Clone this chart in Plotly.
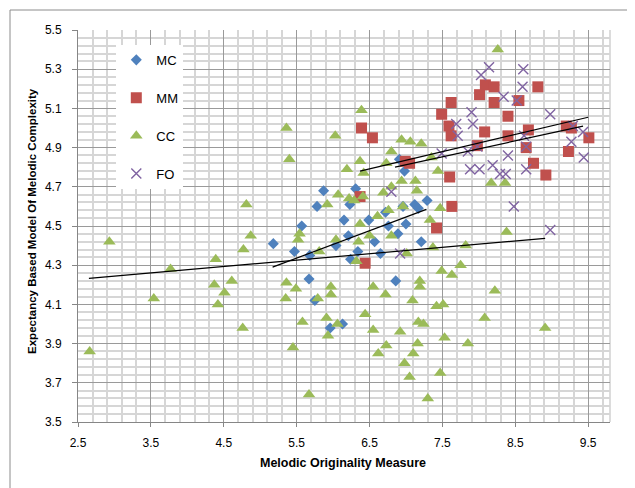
import plotly.graph_objects as go

# ---- data ----
mc_x = [5.18, 5.47, 5.57, 5.68, 5.67, 5.75, 5.78, 5.87, 5.96, 6.13, 6.04, 6.15, 6.21, 6.23, 6.24, 6.31,
        6.34, 6.49, 6.57, 6.65, 6.72, 6.76, 6.86, 6.89, 6.91, 6.96, 6.98, 7.00, 7.12, 7.17, 7.21, 7.29]
mc_y = [4.41, 4.37, 4.50, 4.35, 4.23, 4.12, 4.60, 4.68, 3.98, 4.00, 4.40, 4.53, 4.45, 4.61, 4.33, 4.69,
        4.37, 4.53, 4.42, 4.36, 4.57, 4.50, 4.22, 4.46, 4.84, 4.60, 4.78, 4.51, 4.61, 4.59, 4.42, 4.63]

mm_x = [6.39, 6.54, 6.37, 6.44, 6.99, 7.05, 7.42, 7.49, 7.59, 7.62, 7.62, 7.60, 7.63, 7.98, 8.01, 8.08,
        8.09, 8.21, 8.21, 8.40, 8.40, 8.55, 8.65, 8.68, 8.75, 8.81, 8.92, 9.20, 9.27, 9.23, 9.51]
mm_y = [5.00, 4.95, 4.65, 4.31, 4.83, 4.82, 4.49, 5.07, 5.01, 5.13, 4.96, 4.75, 4.60, 4.91, 5.17, 4.98,
        5.22, 5.21, 5.13, 5.06, 4.96, 5.14, 4.90, 4.99, 4.82, 5.21, 4.76, 5.01, 5.00, 4.88, 4.95]

cc_x = [2.66, 2.93, 3.54, 3.77, 4.37, 4.39, 4.42, 4.51, 4.61, 4.76, 4.77, 4.81, 4.87,
        5.35, 5.36, 5.36, 5.40, 5.45, 5.49, 5.52, 5.54, 5.58, 5.67, 5.79, 5.81, 5.91, 5.92, 5.93,
        5.97, 5.97, 6.03, 6.04, 6.06, 6.07, 6.19, 6.22, 6.29, 6.32, 6.35, 6.37, 6.37, 6.39, 6.41,
        6.42, 6.44, 6.50, 6.55, 6.55, 6.61, 6.62, 6.69, 6.72, 6.73, 6.73, 6.76, 6.80, 6.80, 6.80,
        6.92, 6.94, 6.94, 6.96, 6.98, 7.01, 7.05, 7.06, 7.09, 7.10, 7.13, 7.15, 7.16, 7.17, 7.19,
        7.19, 7.21, 7.24, 7.30, 7.33, 7.35, 7.37, 7.42, 7.44, 7.47, 7.47, 7.49, 7.51, 7.53, 7.63,
        7.75, 7.82, 7.85, 8.08, 8.17, 8.22, 8.26, 8.36, 8.38, 8.91]
cc_y = [3.86, 4.42, 4.13, 4.28, 4.20, 4.33, 4.10, 4.16, 4.22, 3.98, 4.38, 4.61, 4.45,
        4.13, 4.21, 5.00, 4.84, 3.88, 4.18, 4.43, 4.46, 4.01, 3.64, 4.13, 4.37, 4.03, 4.61, 3.94,
        4.19, 4.15, 4.96, 4.43, 4.00, 4.66, 4.79, 4.64, 4.63, 4.32, 4.42, 4.51, 4.83, 5.09, 4.65,
        4.77, 4.05, 4.45, 4.19, 3.97, 4.55, 3.85, 4.67, 4.15, 3.89, 4.82, 4.58, 4.70, 4.88, 4.45,
        3.96, 4.94, 4.73, 4.60, 3.80, 4.36, 3.73, 4.93, 4.12, 3.85, 4.73, 4.68, 3.90, 4.01, 4.22,
        4.19, 4.92, 4.00, 3.62, 4.53, 4.85, 4.39, 4.09, 4.78, 4.59, 3.75, 4.27, 4.10, 3.93, 4.25,
        4.30, 4.40, 3.90, 4.03, 4.72, 4.17, 5.40, 4.72, 4.47, 3.98]

fo_x = [8.14, 8.03, 8.61, 8.60, 8.34, 8.52, 7.90, 7.92, 7.69, 7.71, 8.98, 9.29, 9.27, 9.43, 9.44,
        8.65, 8.62, 8.40, 7.85, 7.98, 7.88, 8.01, 8.19, 8.29, 8.37, 8.65, 8.48, 7.49, 6.80, 6.92, 8.98]
fo_y = [5.31, 5.27, 5.30, 5.21, 5.16, 5.14, 5.08, 5.02, 5.02, 4.96, 5.07, 5.01, 4.93, 4.98, 4.85,
        4.905, 4.96, 4.86, 4.88, 4.905, 4.79, 4.79, 4.81, 4.765, 4.765, 4.79, 4.60, 4.87, 4.675, 4.36, 4.48]

# linear trendline end points (data units)
trend_mc_x = [5.17, 7.28]
trend_mc_y = [4.29, 4.585]
trend_mm_x = [6.37, 9.50]
trend_mm_y = [4.78, 5.055]
trend_cc_x = [2.65, 8.91]
trend_cc_y = [4.233, 4.437]
trend_fo_x = [6.85, 9.43]
trend_fo_y = [4.80, 5.01]

x_title = "Melodic Originality Measure"
y_title = "Expectancy Based Model Of Melodic Complexity"

BLUE = "#4F81BD"
RED = "#C0504D"
GREEN = "#9BBB59"
PURPLE = "#8064A2"
FONT = "Liberation Sans"

fig = go.Figure()

for name, xs, ys, sym, col, size, lg in [
    ("MC", mc_x, mc_y, "diamond", BLUE, 8.5, "g1"),
    ("MM", mm_x, mm_y, "square", RED, 11, "g2"),
    ("CC", cc_x, cc_y, "triangle-up", GREEN, 11, "g3"),
    ("FO", fo_x, fo_y, "x-thin", PURPLE, 10, "g4"),
]:
    marker = dict(symbol=sym, color=col, size=size)
    if sym == "x-thin":
        marker["line"] = dict(color=col, width=1.4)
    else:
        marker["line"] = dict(width=0)
    fig.add_trace(go.Scatter(x=xs, y=ys, mode="markers", name=name, marker=marker,
                             legendgroup=lg))

for tx, ty in [(trend_cc_x, trend_cc_y), (trend_mc_x, trend_mc_y),
               (trend_mm_x, trend_mm_y), (trend_fo_x, trend_fo_y)]:
    fig.add_trace(go.Scatter(x=tx, y=ty, mode="lines", showlegend=False,
                             line=dict(color="black", width=1.2), hoverinfo="skip"))

fig.update_layout(
    width=635, height=488,
    margin=dict(l=70, r=33, t=22, b=74),
    paper_bgcolor="white", plot_bgcolor="white",
    font=dict(family=FONT, size=12, color="black"),
    showlegend=True,
    legend=dict(x=0.072, y=0.962, xanchor="left", yanchor="top",
                bgcolor="white", borderwidth=0, font=dict(size=13, family=FONT),
                traceorder="grouped", tracegroupgap=18, itemwidth=30),
    xaxis=dict(range=[2.5, 9.8], tick0=2.5, dtick=1, tickformat=".1f",
               showgrid=True, gridcolor="#9a9a9a", gridwidth=1,
               showline=True, linecolor="#868686", linewidth=1,
               ticks="outside", ticklen=4, tickcolor="#868686",
               ticklabelstandoff=6, zeroline=False,
               minor=dict(tick0=2.5, dtick=0.2, showgrid=True, gridcolor="#d6d6d6", gridwidth=1.5)),
    yaxis=dict(range=[3.5, 5.5], tick0=3.5, dtick=0.2, tickformat=".1f",
               showgrid=True, gridcolor="#9a9a9a", gridwidth=1,
               showline=True, linecolor="#868686", linewidth=1,
               ticks="outside", ticklen=5, tickcolor="#868686",
               ticklabelstandoff=8, zeroline=False,
               minor=dict(tick0=3.5, dtick=0.04, showgrid=True, gridcolor="#d6d6d6", gridwidth=1.5)),
    annotations=[
        dict(text="<b>" + x_title + "</b>", xref="paper", yref="paper", x=0.498, y=-0.1046,
             xanchor="center", yanchor="middle", showarrow=False, font=dict(size=12.5, family=FONT)),
        dict(text="<b>" + y_title + "</b>", xref="paper", yref="paper", x=-0.0865, y=0.5128,
             xanchor="center", yanchor="middle", textangle=-90, showarrow=False,
             font=dict(size=11.5, family=FONT)),
    ],
    shapes=[
        dict(type="rect", xref="paper", yref="paper", x0=-0.1278, x1=1.1, y0=-0.25, y1=1.051,
             line=dict(color="#8c8c8c", width=1), fillcolor="rgba(0,0,0,0)", layer="below"),
        dict(type="line", xref="paper", yref="paper", x0=1, x1=1, y0=0, y1=1,
             line=dict(color="#d0d0d0", width=1.5), layer="below"),
    ],
)

fig.write_html("out.html")
